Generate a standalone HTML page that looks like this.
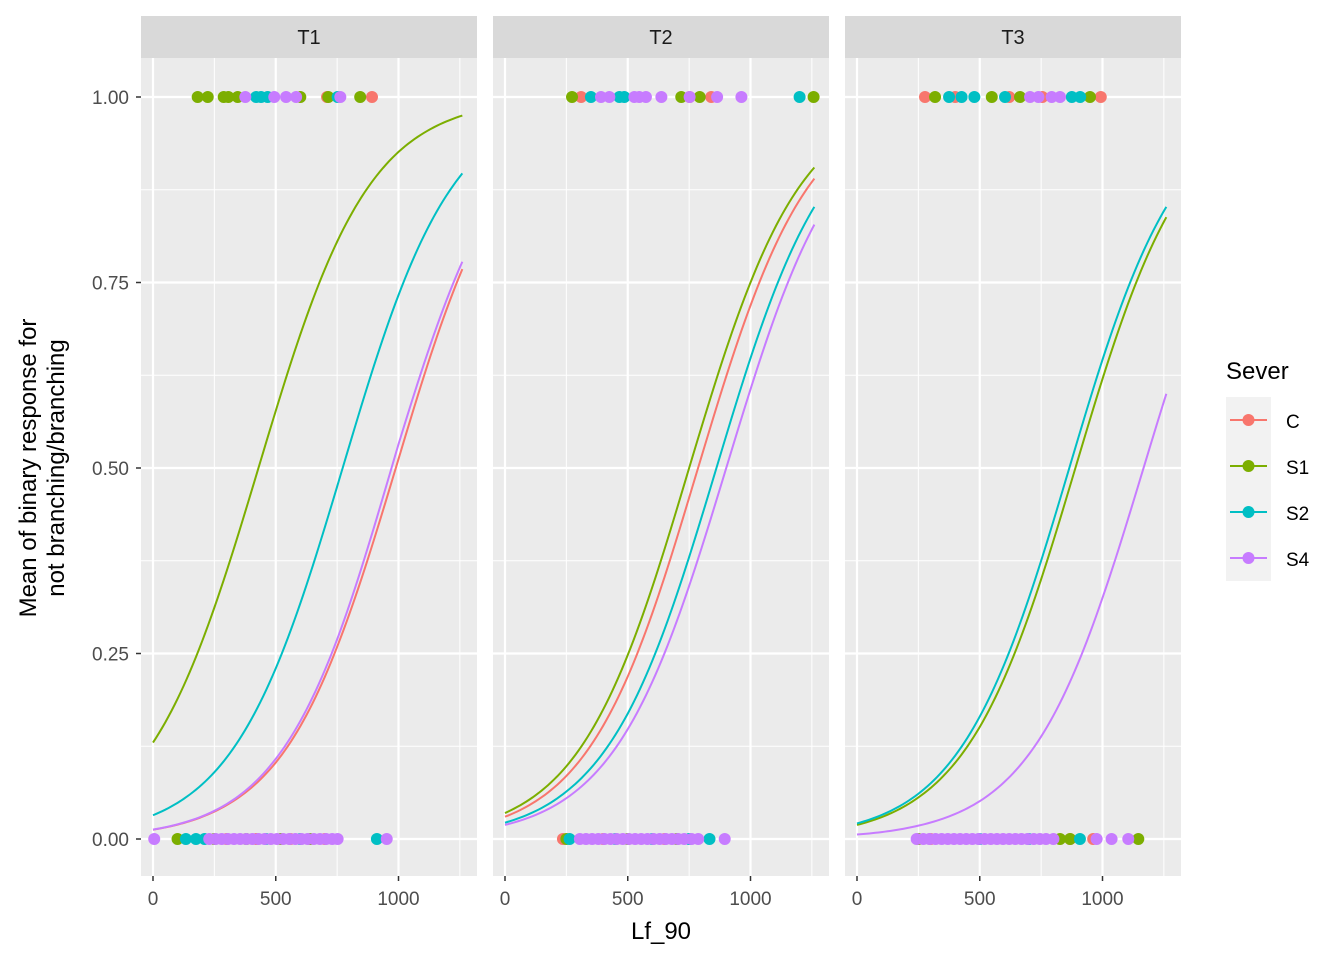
<!DOCTYPE html>
<html><head><meta charset="utf-8"><style>
body{margin:0;background:#fff;}
svg text{font-family:"Liberation Sans",Arial,sans-serif;}
</style></head><body>
<svg id="chart" width="1344" height="960" xmlns="http://www.w3.org/2000/svg"></svg>
<script>
const panels=["T1","T2","T3"];
const series=["C","S1","S2","S4"];
const colors={C:"#F8766D",S1:"#7CAE00",S2:"#00BFC4",S4:"#C77CFF"};
const xTicks=[0,500,1000];
const yTicks=[0,0.25,0.5,0.75,1];
const yTickLabels=["0.00","0.25","0.50","0.75","1.00"];
const curveX=[0,250,500,750,1000,1260];
const curveT1={C:[0.0125,0.037,0.103,0.259,0.512,0.768],S1:[0.130,0.312,0.577,0.805,0.926,0.975],S2:[0.032,0.090,0.230,0.475,0.733,0.897],S4:[0.0127,0.038,0.108,0.269,0.532,0.778]};
const curveT2={C:[0.030,0.085,0.219,0.46,0.719,0.890],S1:[0.035,0.098,0.248,0.50,0.750,0.905],S2:[0.022,0.064,0.169,0.380,0.648,0.852],S4:[0.019,0.055,0.148,0.341,0.606,0.828]};
const curveT3={S1:[0.019,0.056,0.151,0.350,0.620,0.838],S2:[0.021,0.061,0.165,0.375,0.646,0.852],S4:[0.006,0.018,0.051,0.138,0.325,0.600]};
const onesT1={C:[709,892],S1:[182,223,288,307,345,600,714,844],S2:[420,440,467,752],S4:[376,494,542,583,763]};
const zerosT1={C:[300,420,560,700],S1:[100,250,380,520,640],S2:[134,175,210,460,600,912],S4:[5,229,255,280,305,330,355,380,405,430,455,480,505,530,555,580,605,630,655,680,705,730,752,952]};
const onesT2={C:[310,752,840],S1:[273,718,793,1257],S2:[350,466,486,1200],S4:[391,425,527,547,574,637,752,864,963]};
const zerosT2={C:[236,400,650],S1:[250,500,700],S2:[263,450,600,750,833],S4:[305,330,355,380,405,430,455,480,505,530,555,580,605,630,655,680,705,730,760,787,895]};
const onesT3={C:[277,400,620,755,993],S1:[318,549,664,949],S2:[375,426,478,603,875,909],S4:[705,739,793,827]};
const zerosT3={C:[300,868,962],S1:[250,827,868,1146],S2:[500,700,908],S4:[243,270,295,320,345,370,395,420,445,470,495,520,545,570,595,620,645,670,695,720,745,770,800,976,1037,1105]};
const curves=[curveT1,curveT2,curveT3], ones=[onesT1,onesT2,onesT3], zeros=[zerosT1,zerosT2,zerosT3];

const NS="http://www.w3.org/2000/svg";
const svg=document.getElementById("chart");
function mk(tag,attrs,parent){const e=document.createElementNS(NS,tag);for(const k in attrs)e.setAttribute(k,attrs[k]);(parent||svg).appendChild(e);return e;}
const panelLeft=[141,493,845], PW=336, plotTop=58, plotBottom=876;
const yScale=v=>839-v*742;
function xScale(i,v){return panelLeft[i]+12+v*0.2455;}
const logit=p=>Math.log(p/(1-p)), inv=z=>1/(1+Math.exp(-z));
function curvePath(i,vals){
  let d="";
  for(let k=0;k<curveX.length-1;k++){
    const x0=curveX[k],x1=curveX[k+1],z0=logit(vals[k]),z1=logit(vals[k+1]);
    for(let s=(k===0?0:1);s<=20;s++){
      const t=s/20,x=x0+(x1-x0)*t,p=inv(z0+(z1-z0)*t);
      d+=(d?"L":"M")+xScale(i,x).toFixed(2)+","+yScale(p).toFixed(2);
    }
  }
  return d;
}

panels.forEach((name,i)=>{
  const L=panelLeft[i];
  const g=mk("g",{});
  
  
  const bg=mk("rect",{x:L,y:plotTop,width:PW,height:plotBottom-plotTop,fill:"#EBEBEB"},g);
  
  
  const st=mk("rect",{x:L,y:16,width:PW,height:42,fill:"#D9D9D9"},g);
  
  
  const stt=mk("text",{x:L+PW/2,y:44,"text-anchor":"middle","font-size":"20",fill:"#1A1A1A"},g);stt.textContent=name;
  
  
  [0.125,0.375,0.625,0.875].forEach(v=>mk("line",{x1:L,x2:L+PW,y1:yScale(v),y2:yScale(v),stroke:"#fff","stroke-width":1},g));
  [250,750,1250].forEach(v=>mk("line",{x1:xScale(i,v),x2:xScale(i,v),y1:plotTop,y2:plotBottom,stroke:"#fff","stroke-width":1},g));
  yTicks.forEach(v=>mk("line",{x1:L,x2:L+PW,y1:yScale(v),y2:yScale(v),stroke:"#fff","stroke-width":2.2},g));
  xTicks.forEach(v=>{mk("line",{x1:xScale(i,v),x2:xScale(i,v),y1:plotTop,y2:plotBottom,stroke:"#fff","stroke-width":2.2},g);
    mk("line",{x1:xScale(i,v),x2:xScale(i,v),y1:plotBottom,y2:plotBottom+5,stroke:"#333","stroke-width":1.5},g);
    const t=mk("text",{x:xScale(i,v),y:905,"text-anchor":"middle","font-size":"19",fill:"#4D4D4D"},g);t.textContent=v;
    
    });
  series.forEach(s=>{
    [[ones[i][s],1],[zeros[i][s],0]].forEach(([arr,y])=>{(arr||[]).forEach(v=>{
      const c=mk("circle",{cx:xScale(i,v),cy:yScale(y),r:6,fill:colors[s]},g);
      
      });});
  });
  series.forEach(s=>{
    const vals=curves[i][s]; if(!vals)return;
    const p=mk("path",{d:curvePath(i,vals),fill:"none",stroke:colors[s],"stroke-width":2},g);
    
    
  });
});
yTicks.forEach((v,k)=>{
  mk("line",{x1:136,x2:141,y1:yScale(v),y2:yScale(v),stroke:"#333","stroke-width":1.5});
  const t=mk("text",{x:129,y:yScale(v)+7,"text-anchor":"end","font-size":"19",fill:"#4D4D4D"});t.textContent=yTickLabels[k];
  
  
});
const xt=mk("text",{x:661,y:939,"text-anchor":"middle","font-size":"24",fill:"#000"});xt.textContent="Lf_90";


const yt=mk("text",{transform:"translate(36,468) rotate(-90)","text-anchor":"middle","font-size":"24",fill:"#000"});


const ts1=mk("tspan",{x:0,dy:0},yt);ts1.textContent="Mean of binary response for";
const ts2=mk("tspan",{x:0,dy:28},yt);ts2.textContent="not branching/branching";
const lt=mk("text",{x:1226,y:379,"font-size":"24",fill:"#000"});lt.textContent="Sever";


series.forEach((s,k)=>{
  const cy=420+k*46;
  const g=mk("g",{});
  
  
  mk("rect",{x:1226,y:cy-23,width:45,height:46,fill:"#F2F2F2"},g);
  mk("line",{x1:1230,x2:1267,y1:cy,y2:cy,stroke:colors[s],"stroke-width":2},g);
  mk("circle",{cx:1248.5,cy:cy,r:6,fill:colors[s]},g);
  const t=mk("text",{x:1286,y:cy+8,"font-size":"19",fill:"#000"},g);t.textContent=s;
});
</script>
</body></html>
